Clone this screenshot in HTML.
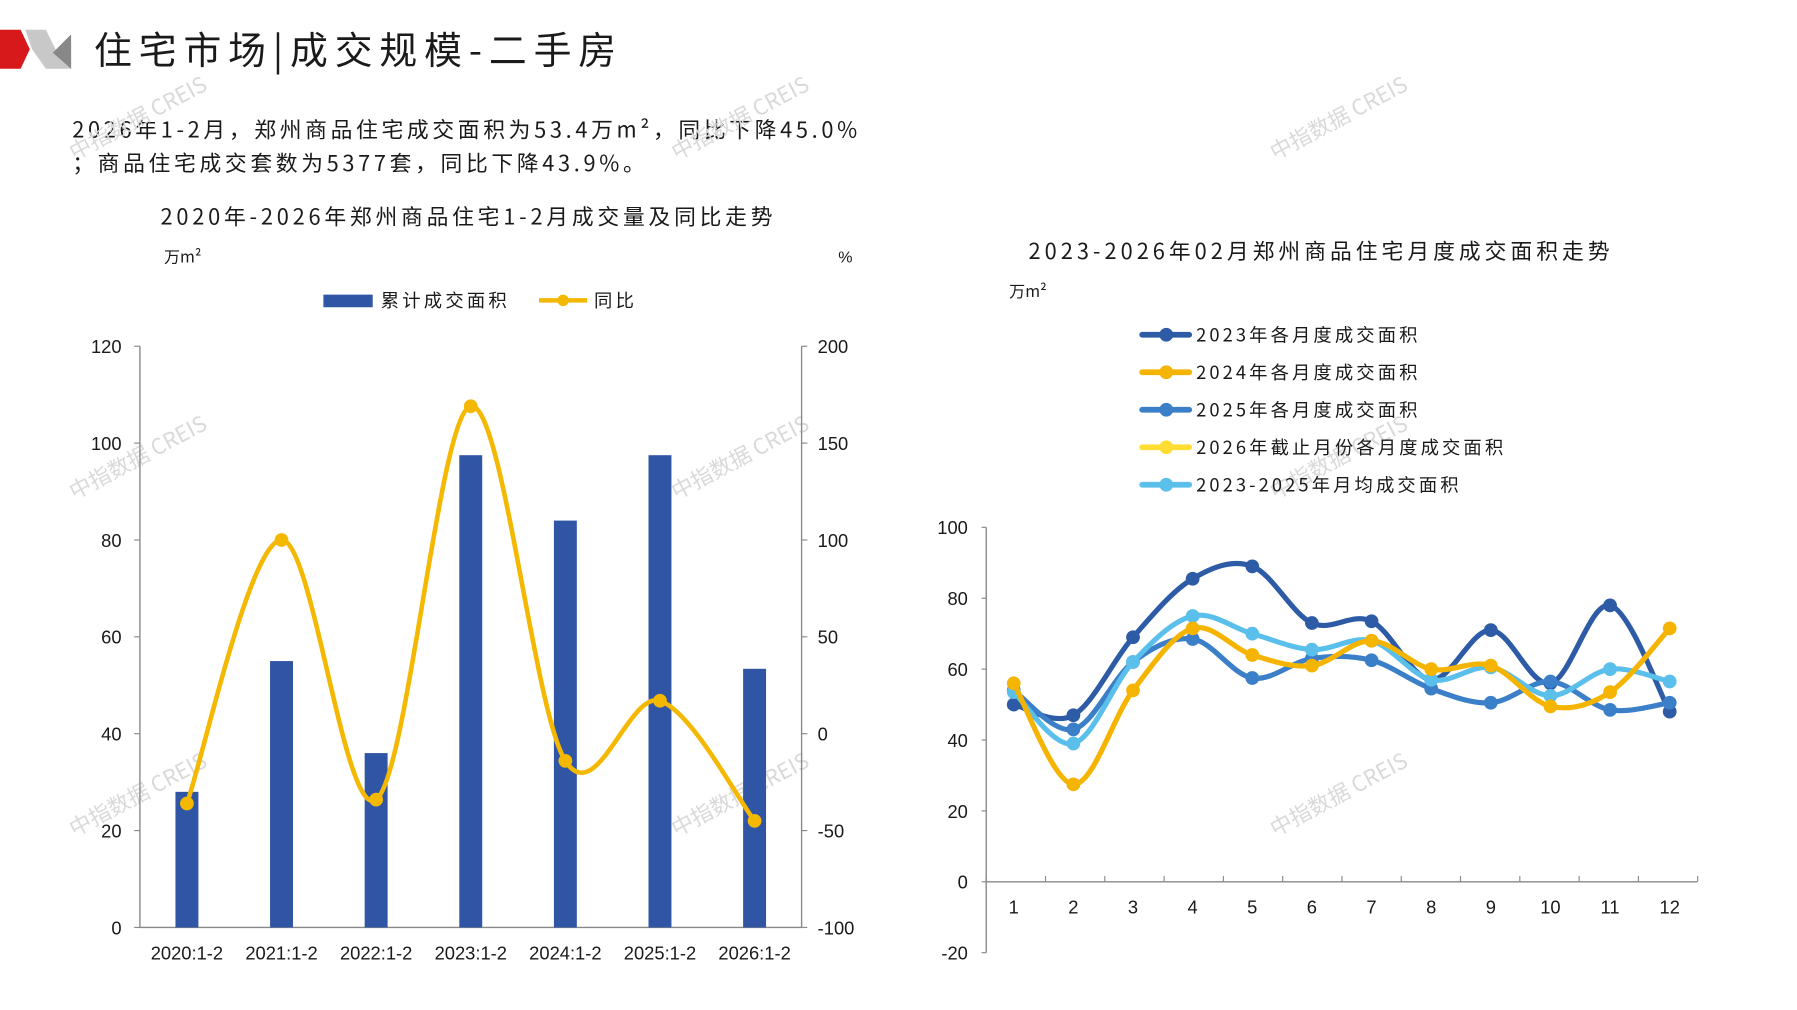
<!DOCTYPE html>
<html><head><meta charset="utf-8">
<style>
html,body{margin:0;padding:0;background:#fff;width:1797px;height:1010px;overflow:hidden}
svg{display:block}
text{font-family:"Liberation Sans","Noto Sans CJK SC",sans-serif;fill:#1a1a1a}
.cjk{font-family:"Noto Sans CJK SC","Liberation Sans",sans-serif}
</style></head>
<body>
<svg id="s" width="1797" height="1010" viewBox="0 0 1567 881" preserveAspectRatio="none">
<g>
<polygon points="0,26 18,26 26,43 18,60 0,60" fill="#d7191c"/>
<polygon points="22,26 40,26 52,50 62,36 62,60 40,60 28,43" fill="#c8c8c8"/>
<polygon points="46,46 62,30 62,60" fill="#888"/>
</g>
<text class="cjk" x="82" y="56" font-size="33" letter-spacing="6">住宅市场|成交规模-二手房</text>
<text class="cjk" x="63" y="120" font-size="19" letter-spacing="3.2">2026年1-2月，郑州商品住宅成交面积为53.4万m²，同比下降45.0%</text>
<text class="cjk" x="63" y="149" font-size="19" letter-spacing="3.2">；商品住宅成交套数为5377套，同比下降43.9%。</text>
<g id="wm"></g>
<g id="left"></g>
<g id="right"></g>
</svg>
<script>
// Left chart data
const leftCats = ["2020:1-2","2021:1-2","2022:1-2","2023:1-2","2024:1-2","2025:1-2","2026:1-2"];
const leftArea = [28, 55, 36, 97.5, 84, 97.5, 53.4];
const leftYoy = [-36, 100, -34, 169, -14, 17, -45];
const leftTicks = [0,20,40,60,80,100,120];
const leftTicksR = [-100,-50,0,50,100,150,200];
// Right chart data
const months = ["1","2","3","4","5","6","7","8","9","10","11","12"];
const s2023 = [50,47,69,85.5,89,73,73.5,57,71,56,78,48];
const s2024 = [56,27.5,54,71.5,64,61,68,60,61,49.5,53.5,71.5];
const s2025 = [54,43,62,68.5,57.5,63,62.5,54.5,50.5,56.5,48.5,50.5];
const s2026 = [];
const sAvg = [53.5,39,62,75,70,65.5,68,57,60.5,52.5,60,56.5];
const rightTicks = [-20,0,20,40,60,80,100];

const NS="http://www.w3.org/2000/svg";
function mk(tag,attrs,parent){const e=document.createElementNS(NS,tag);for(const k in attrs)e.setAttribute(k,attrs[k]);parent.appendChild(e);return e;}
function txt(parent,x,y,s,size,anchor,cls,ls){const t=mk('text',{x:x,y:y,'font-size':size,'text-anchor':anchor||'start'},parent);if(cls)t.setAttribute('class',cls);if(ls)t.setAttribute('letter-spacing',ls);t.textContent=s;return t;}
function smooth(pts){
  let d=`M${pts[0][0]},${pts[0][1]}`;
  for(let i=0;i<pts.length-1;i++){
    const p0=pts[i-1]||pts[i],p1=pts[i],p2=pts[i+1],p3=pts[i+2]||p2;
    const c1=[p1[0]+(p2[0]-p0[0])/6,p1[1]+(p2[1]-p0[1])/6];
    const c2=[p2[0]-(p3[0]-p1[0])/6,p2[1]-(p3[1]-p1[1])/6];
    d+=` C${c1[0]},${c1[1]} ${c2[0]},${c2[1]} ${p2[0]},${p2[1]}`;
  }
  return d;
}
// watermarks
const wm=document.getElementById('wm');
[[65,140],[590,140],[1112,140],[65,436],[590,436],[1112,436],[65,730],[590,730],[1112,730]].forEach(p=>{
  const t=mk('text',{x:p[0],y:p[1],'font-size':19,transform:`rotate(-28 ${p[0]} ${p[1]})`,'class':'cjk'},wm);
  t.setAttribute('style','fill:#d9d9d9');
  t.textContent='中指数据 CREIS';
  
  
});

// LEFT CHART
const L=document.getElementById('left');
const lx0=122,lx1=699,ly0=809,ly1=302;
const yL=v=>ly0-(v/120)*(ly0-ly1);
const yR=v=>ly0-((v+100)/300)*(ly0-ly1);
const xL=i=>163+i*82.5;
let t=txt(L,140,196,"2020年-2026年郑州商品住宅1-2月成交量及同比走势",19,'start','cjk',3.3);

t=txt(L,143,229,"万m²",14,'start','cjk');
t=txt(L,731,229,"%",14,'start');
let lg=mk('g',{},L);
mk('rect',{x:282,y:257,width:43,height:11,fill:'#2F55A4'},lg);
txt(lg,332,268,"累计成交面积",16,'start','cjk',2.8);
mk('line',{x1:470,y1:262,x2:512,y2:262,stroke:'#F5B800','stroke-width':4},lg);
mk('circle',{cx:491,cy:262,r:5,fill:'#F5B800'},lg);
txt(lg,518,268,"同比",16,'start','cjk',2.8);
mk('line',{x1:lx0,y1:ly1,x2:lx0,y2:ly0,stroke:'#888','stroke-width':1.2},L);
mk('line',{x1:lx1,y1:ly1,x2:lx1,y2:ly0,stroke:'#888','stroke-width':1.2},L);
mk('line',{x1:lx0,y1:ly0,x2:lx1,y2:ly0,stroke:'#888','stroke-width':1.2},L);
leftTicks.forEach(v=>{mk('line',{x1:lx0-5,y1:yL(v),x2:lx0,y2:yL(v),stroke:'#888'},L);const e=txt(L,106,yL(v)+6,String(v),16,'end');});
leftTicksR.forEach(v=>{mk('line',{x1:lx1,y1:yR(v),x2:lx1+5,y2:yR(v),stroke:'#888'},L);const e=txt(L,713,yR(v)+6,String(v),16,'start');});
leftCats.forEach((c,i)=>{const e=txt(L,xL(i),837,c,16,'middle');});
leftArea.forEach((v,i)=>{const r=mk('rect',{x:xL(i)-10,y:yL(v),width:20,height:ly0-yL(v),fill:'#2F55A4'},L);

});
const lp=leftYoy.map((v,i)=>[xL(i),yR(v)]);
let pth=mk('path',{d:smooth(lp),fill:'none',stroke:'#F5B800','stroke-width':4},L);


lp.forEach(p=>{const c=mk('circle',{cx:p[0],cy:p[1],r:6,fill:'#F5B800'},L);

});

// RIGHT CHART
const R=document.getElementById('right');
const rx0=860,rx1=1480,ry0=831,ry1=460;
const yr=v=>ry0-((v+20)/120)*(ry0-ry1);
const xr=i=>884+i*52;
t=txt(R,1152,226,"2023-2026年02月郑州商品住宅月度成交面积走势",19,'middle','cjk',3.5);

t=txt(R,880,259,"万m²",14,'start','cjk');
mk('line',{x1:rx0,y1:ry1,x2:rx0,y2:ry0,stroke:'#888','stroke-width':1.2},R);
mk('line',{x1:rx0,y1:yr(0),x2:rx1,y2:yr(0),stroke:'#888','stroke-width':1.2},R);
rightTicks.forEach(v=>{mk('line',{x1:rx0-4,y1:yr(v),x2:rx0,y2:yr(v),stroke:'#888'},R);const e=txt(R,844,yr(v)+6,String(v),16,'end');});
for(let i=0;i<=12;i++){mk('line',{x1:rx0+i*51.7,y1:yr(0),x2:rx0+i*51.7,y2:yr(0)-5,stroke:'#888'},R);}
months.forEach((m,i)=>{const e=txt(R,xr(i),797,m,16,'middle');});
const series=[
 {name:"2023年各月度成交面积",data:s2023,color:'#2D5BA6'},
 {name:"2024年各月度成交面积",data:s2024,color:'#F5B400'},
 {name:"2025年各月度成交面积",data:s2025,color:'#3A7FC8'},
 {name:"2026年截止月份各月度成交面积",data:s2026,color:'#FFDD33'},
 {name:"2023-2025年月均成交面积",data:sAvg,color:'#5BBFEB'}];
series.forEach((s,k)=>{
  const ly=292+k*32.7;
  const g=mk('g',{},R);
  
  
  mk('line',{x1:996,y1:ly,x2:1037,y2:ly,stroke:s.color,'stroke-width':5,'stroke-linecap':'round'},g);
  mk('circle',{cx:1017,cy:ly,r:6,fill:s.color},g);
  txt(g,1043,ly+6,s.name,16,'start','cjk',2.7);
});
[0,2,4,1].forEach(k=>{
  const s=series[k];if(!s.data.length)return;
  const pts=s.data.map((v,i)=>[xr(i),yr(v)]);
  const p=mk('path',{d:smooth(pts),fill:'none',stroke:s.color,'stroke-width':4.5},R);
  
  
  pts.forEach(q=>{const c=mk('circle',{cx:q[0],cy:q[1],r:6,fill:s.color},R);
  
  });
});
if(s2026.length){const pts=s2026.map((v,i)=>[xr(i),yr(v)]);const p=mk('path',{d:smooth(pts),fill:'none',stroke:'#FFDD33','stroke-width':4.5},R);

}
</script>
</body></html>
